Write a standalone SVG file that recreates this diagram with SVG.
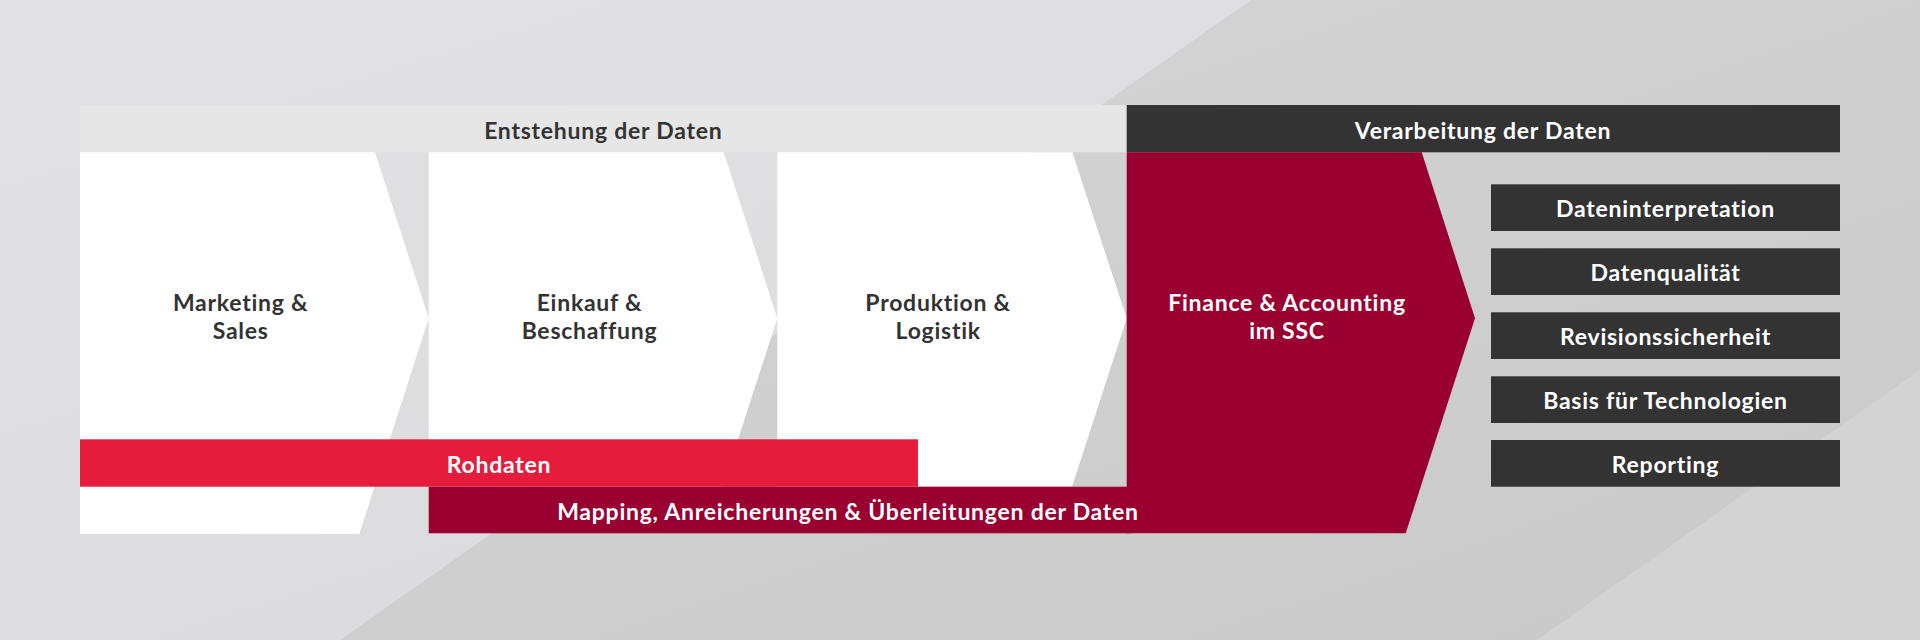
<svg xmlns="http://www.w3.org/2000/svg" width="1920" height="640" viewBox="0 0 1920 640">
  <defs>
    <linearGradient id="bgA" x1="0" y1="0" x2="0.6" y2="1">
      <stop offset="0" stop-color="#e2e1e3"/>
      <stop offset="1" stop-color="#dbdadc"/>
    </linearGradient>
    <linearGradient id="bgB" x1="0" y1="0" x2="1" y2="1">
      <stop offset="0" stop-color="#d7d6d8"/>
      <stop offset="1" stop-color="#c9c9c9"/>
    </linearGradient>
    <style>
      .t { font-family: Lato, "Liberation Sans", Arial, sans-serif; font-weight: 700; font-size: 23px; letter-spacing: 0.75px; text-anchor: middle; }
      .dk { fill: #333333; }
      .wh { fill: #ffffff; }
      .chev { fill: #ffffff; }
      .box { fill: #333333; }
      .crimson { fill: #990031; }
    </style>
  </defs>

  <g id="background">
    <rect x="0" y="0" width="1920" height="640" fill="url(#bgB)"/>
    <polygon points="0,0 1251,0 340,640 0,640" fill="url(#bgA)"/>
    <polygon points="1920,370 1920,640 1537,640" fill="#d3d3d3"/>
  </g>

  <g id="header-entstehung">
    <rect x="80" y="105" width="1046.7" height="47.3" fill="#e6e6e6"/>
    <text class="t dk" x="603.3" y="139.3">Entstehung der Daten</text>
  </g>
  <g id="header-verarbeitung">
    <rect x="1126.7" y="105" width="713.3" height="47.3" fill="#333333"/>
    <text class="t wh" x="1483" y="139.3">Verarbeitung der Daten</text>
  </g>

  <g id="marketing-sales">
    <polygon class="chev" points="80,152.3 375,152.3 428.7,318.3 359.3,534 80,534"/>
    <text class="t dk" x="240.7" y="311">Marketing &amp;</text>
    <text class="t dk" x="240.7" y="339.3">Sales</text>
  </g>
  <g id="einkauf-beschaffung">
    <polygon class="chev" points="428.7,152.3 723.7,152.3 777.3,318.3 722.7,486.7 428.7,486.7"/>
    <text class="t dk" x="589.5" y="311">Einkauf &amp;</text>
    <text class="t dk" x="589.5" y="339.3">Beschaffung</text>
  </g>
  <g id="produktion-logistik">
    <polygon class="chev" points="777.3,152.3 1072.3,152.3 1126.7,318.3 1072,486.7 777.3,486.7"/>
    <text class="t dk" x="938.2" y="311">Produktion &amp;</text>
    <text class="t dk" x="938.2" y="339.3">Logistik</text>
  </g>

  <g id="rohdaten">
    <rect x="80" y="439.3" width="838" height="47.4" fill="#e61c3d"/>
    <text class="t wh" x="499" y="473.3">Rohdaten</text>
  </g>

  <g id="finance-accounting">
    <polygon class="crimson" points="1126.7,152.3 1421.7,152.3 1475,318.3 1405.7,533.3 1126.7,533.3"/>
    <text class="t wh" x="1287" y="311">Finance &amp; Accounting</text>
    <text class="t wh" x="1287" y="339.3">im SSC</text>
  </g>

  <g id="mapping">
    <rect class="crimson" x="428.7" y="486.7" width="702" height="46.6"/>
    <text class="t wh" x="848" y="520">Mapping, Anreicherungen &amp; Überleitungen der Daten</text>
  </g>

  <g id="dateninterpretation">
    <rect class="box" x="1491" y="184.3" width="349" height="46.7"/>
    <text class="t wh" x="1665.5" y="217.3">Dateninterpretation</text>
  </g>
  <g id="datenqualitaet">
    <rect class="box" x="1491" y="248.3" width="349" height="46.7"/>
    <text class="t wh" x="1665.5" y="281.3">Datenqualität</text>
  </g>
  <g id="revisionssicherheit">
    <rect class="box" x="1491" y="312.3" width="349" height="46.7"/>
    <text class="t wh" x="1665.5" y="345.3">Revisionssicherheit</text>
  </g>
  <g id="basis-technologien">
    <rect class="box" x="1491" y="376.3" width="349" height="46.7"/>
    <text class="t wh" x="1665.5" y="409.3">Basis für Technologien</text>
  </g>
  <g id="reporting">
    <rect class="box" x="1491" y="440" width="349" height="46.7"/>
    <text class="t wh" x="1665.5" y="473.3">Reporting</text>
  </g>

  <g id="connectors"/>
</svg>
